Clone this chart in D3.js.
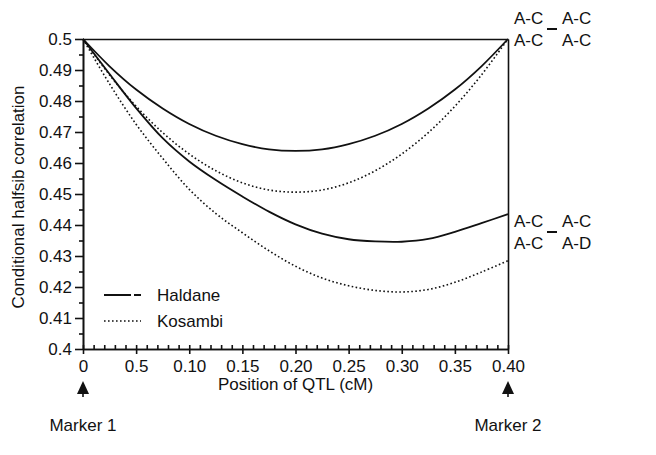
<!DOCTYPE html>
<html>
<head>
<meta charset="utf-8">
<script src="https://cdn.jsdelivr.net/npm/d3@7"></script>
<style>
body { margin: 0; background: #fff; }
text { font-family: "Liberation Sans", Arial, sans-serif; fill: #111; }
</style>
</head>
<body>
<div id="chart"></div>
<script>
// QTL position between the two markers
var qtlPos = [0, 0.025, 0.05, 0.075, 0.1, 0.125, 0.15, 0.175, 0.2,
              0.225, 0.25, 0.275, 0.3, 0.325, 0.35, 0.375, 0.4];

// A-C A-C / A-C A-C
var haldaneSame = [0.5, 0.4912, 0.4837, 0.4776, 0.4726, 0.4688, 0.4661, 0.4644, 0.4639,
                   0.4644, 0.4661, 0.4688, 0.4726, 0.4776, 0.4837, 0.4912, 0.5];
var kosambiSame = [0.5, 0.4884, 0.4783, 0.4698, 0.4629, 0.4575, 0.4536, 0.4513, 0.4506,
                   0.4513, 0.4536, 0.4575, 0.4629, 0.4698, 0.4783, 0.4884, 0.5];
// A-C A-C / A-C A-D
var haldaneDiff = [0.5, 0.4887, 0.4777, 0.468, 0.4605, 0.4545, 0.4492, 0.4443, 0.4402,
                   0.4372, 0.4354, 0.4347, 0.4346, 0.4355, 0.4378, 0.4406, 0.4435];
var kosambiDiff = [0.5, 0.4855, 0.4725, 0.4615, 0.4515, 0.4437, 0.4375, 0.4317, 0.4267,
                   0.4229, 0.4204, 0.4189, 0.4184, 0.4192, 0.4215, 0.4248, 0.4285];

var yTicks = [0.4, 0.41, 0.42, 0.43, 0.44, 0.45, 0.46, 0.47, 0.48, 0.49, 0.5];
var yTickLabels = ["0.4", "0.41", "0.42", "0.43", "0.44", "0.45", "0.46", "0.47", "0.48", "0.49", "0.5"];
var xTicks = [0, 0.05, 0.1, 0.15, 0.2, 0.25, 0.3, 0.35, 0.4];
var xTickLabels = ["0", "0.5", "0.10", "0.15", "0.20", "0.25", "0.30", "0.35", "0.40"];

var w = 656, h = 455;
var mLeft = 83, mRight = 508, mTop = 39, mBottom = 349;

var svg = d3.select("#chart").append("svg")
    .attr("width", w)
    .attr("height", h);

var x = d3.scaleLinear().domain([0, 0.4]).range([mLeft, mRight]);
var y = d3.scaleLinear().domain([0.4, 0.5]).range([mBottom, mTop]);

var fontSize = "17px";

// minor ticks
var yMinor = d3.range(0.405, 0.5, 0.01);
var xMinor = d3.range(0.01, 0.4, 0.01).filter(function(d) {
    return Math.abs(d / 0.05 - Math.round(d / 0.05)) > 0.01;
});

svg.append("g").attr("transform", "translate(" + mLeft + ",0)")
    .call(d3.axisLeft(y).tickValues(yTicks)
        .tickFormat(function(d, i) { return yTickLabels[i]; })
        .tickSize(8).tickSizeOuter(0).tickPadding(3));
svg.append("g").attr("transform", "translate(" + mLeft + ",0)")
    .call(d3.axisLeft(y).tickValues(yMinor).tickFormat("").tickSize(4).tickSizeOuter(0));

svg.append("g").attr("transform", "translate(0," + mBottom + ")")
    .call(d3.axisBottom(x).tickValues(xTicks)
        .tickFormat(function(d, i) { return xTickLabels[i]; })
        .tickSize(5).tickSizeOuter(0).tickPadding(6));
svg.append("g").attr("transform", "translate(0," + mBottom + ")")
    .call(d3.axisBottom(x).tickValues(xTicks.concat(xMinor)).tickFormat("").tickSize(-4).tickSizeOuter(0));

// frame top + right
svg.append("g").attr("transform", "translate(0," + mTop + ")")
    .call(d3.axisTop(x).tickValues([]).tickSizeOuter(0));
svg.append("g").attr("transform", "translate(" + mRight + ",0)")
    .call(d3.axisRight(y).tickValues([]).tickSizeOuter(0));

svg.selectAll(".domain, .tick line")
    .attr("stroke", "#111")
    .attr("stroke-width", 1.6);
svg.selectAll(".tick text")
    .attr("font-size", fontSize)
    .attr("font-family", "Liberation Sans, Arial, sans-serif")
    .attr("fill", "#111");

// curves
var line = function(vals) {
    return d3.line()
        .x(function(d, i) { return x(qtlPos[i]); })
        .y(function(d) { return y(d); })
        .curve(d3.curveCatmullRom)(vals);
};

var series = [
    { vals: haldaneSame, dash: null },
    { vals: haldaneDiff, dash: null },
    { vals: kosambiSame, dash: "1.6,2.4" },
    { vals: kosambiDiff, dash: "1.6,2.4" }
];

svg.selectAll("path.curve")
    .data(series)
    .enter()
    .append("path")
    .attr("class", "curve")
    .attr("d", function(d) { return line(d.vals); })
    .attr("fill", "none")
    .attr("stroke", "#111")
    .attr("stroke-width", function(d) { return d.dash ? 1.6 : 1.8; })
    .attr("stroke-dasharray", function(d) { return d.dash; });

// legend
var legend = [
    { name: "Haldane", dash: "27,3,7", yy: 295 },
    { name: "Kosambi", dash: "1.6,2.4", yy: 321 }
];
var lg = svg.selectAll("g.legend").data(legend).enter().append("g").attr("class", "legend");
lg.append("line")
    .attr("x1", 104).attr("x2", 141)
    .attr("y1", function(d) { return d.yy; })
    .attr("y2", function(d) { return d.yy; })
    .attr("stroke", "#111")
    .attr("stroke-width", function(d, i) { return i ? 1.6 : 1.8; })
    .attr("stroke-dasharray", function(d) { return d.dash; });
lg.append("text")
    .attr("x", 157)
    .attr("y", function(d) { return d.yy + 6; })
    .attr("font-size", fontSize)
    .text(function(d) { return d.name; });

// genotype labels at the right
var genoLabels = [
    { rows: [["A-C", "A-C"], ["A-C", "A-C"]], yy: 24 },
    { rows: [["A-C", "A-C"], ["A-C", "A-D"]], yy: 227 }
];
genoLabels.forEach(function(g) {
    g.rows.forEach(function(r, j) {
        svg.append("text").attr("x", 514).attr("y", g.yy + j * 22)
            .attr("font-size", fontSize).text(r[0]);
        svg.append("text").attr("x", 562).attr("y", g.yy + j * 22)
            .attr("font-size", fontSize).text(r[1]);
    });
    svg.append("line")
        .attr("x1", 547).attr("x2", 557)
        .attr("y1", g.yy + 5).attr("y2", g.yy + 5)
        .attr("stroke", "#111").attr("stroke-width", 2);
});

// axis titles
svg.append("text")
    .attr("x", (mLeft + mRight) / 2)
    .attr("y", 390)
    .attr("text-anchor", "middle")
    .attr("font-size", fontSize)
    .text("Position of QTL (cM)");

svg.append("text")
    .attr("transform", "translate(24," + ((mTop + mBottom) / 2 + 3) + ") rotate(-90)")
    .attr("text-anchor", "middle")
    .attr("font-size", fontSize)
    .text("Conditional halfsib correlation");

// marker arrows
var markers = [{ pos: 0, name: "Marker 1" }, { pos: 0.4, name: "Marker 2" }];
markers.forEach(function(m) {
    var cx = x(m.pos);
    svg.append("path")
        .attr("d", "M" + (cx - 6) + ",394 L" + (cx + 6) + ",394 L" + cx + ",381 Z")
        .attr("fill", "#111");
    svg.append("line")
        .attr("x1", cx).attr("x2", cx).attr("y1", 393).attr("y2", 397)
        .attr("stroke", "#111").attr("stroke-width", 1.6);
    svg.append("text")
        .attr("x", cx).attr("y", 431)
        .attr("text-anchor", "middle")
        .attr("font-size", fontSize)
        .text(m.name);
});
</script>
</body>
</html>
